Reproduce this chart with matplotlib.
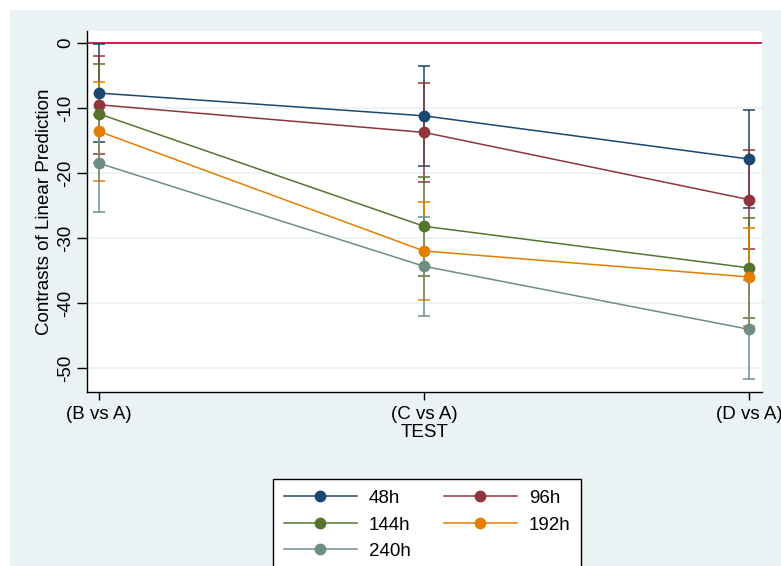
import numpy as np
import matplotlib
matplotlib.use('Agg')
import matplotlib.pyplot as plt
from matplotlib.patches import Rectangle

plt.rcParams['font.family'] = ['Liberation Sans', 'DejaVu Sans']

# contrasts (vs A) with 95% CI
tests = ['(B vs A)', '(C vs A)', '(D vs A)']
groups = ['48h', '96h', '144h', '192h', '240h']
est = {
    '48h':  [-7.7, -11.2, -17.85],
    '96h':  [-9.5, -13.75, -24.1],
    '144h': [-10.9, -28.2, -34.6],
    '192h': [-13.6, -32.0, -36.0],
    '240h': [-18.5, -34.35, -44.05],
}
lo = {
    '48h':  [-15.3, -18.9, -25.4],
    '96h':  [-17.1, -21.4, -31.7],
    '144h': [-18.5, -35.8, -42.3],
    '192h': [-21.2, -39.6, -43.6],
    '240h': [-26.0, -42.0, -51.7],
}
hi = {
    '48h':  [-0.1, -3.5, -10.3],
    '96h':  [-1.95, -6.1, -16.5],
    '144h': [-3.3, -20.6, -26.9],
    '192h': [-6.0, -24.4, -28.4],
    '240h': [-11.0, -26.7, -36.4],
}
colors = ['#1A476F', '#90353B', '#55752F', '#E37E00', '#6E8E84']
bg = '#EAF2F3'
fs = 13.5

fig = plt.figure(figsize=(7.81, 5.66), dpi=100)
fig.patches.append(Rectangle((10/781., 0), 1, 1 - 10/566., transform=fig.transFigure,
                             facecolor=bg, edgecolor='none', zorder=-10))
ax = fig.add_axes([87/781., 1 - 392/566., (762 - 87)/781., (392 - 31)/566.])
ax.set_facecolor('white')

x = np.arange(1, len(tests) + 1)

# CIs first, then lines on top
for g, c in zip(groups, colors):
    e = np.array(est[g])
    yerr = [e - np.array(lo[g]), np.array(hi[g]) - e]
    ax.errorbar(x, e, yerr=yerr, fmt='none', ecolor=c, elinewidth=1.1,
                capsize=4.5, capthick=1.1, zorder=2)

ax.axhline(0, color='#C8103A', lw=1.3, zorder=1.5)

handles = []
for g, c in zip(groups, colors):
    h, = ax.plot(x, est[g], color=c, lw=1.1, marker='o', ms=8.5,
                 markeredgewidth=0, label=g, zorder=3)
    handles.append(h)

ax.set_xlim(0.963, 3.04)
ax.set_ylim(-53.7, 1.85)
ax.set_xticks(x)
ax.set_xticklabels(tests, fontsize=fs)
ax.set_yticks([0, -10, -20, -30, -40, -50])
ax.set_yticklabels(['0', '-10', '-20', '-30', '-40', '-50'], fontsize=fs,
                   rotation=90, va='center')
ax.tick_params(axis='y', length=7, width=1, pad=2)
ax.tick_params(axis='x', length=6, width=1, pad=4)
ax.grid(axis='y', color=bg, lw=1.2, zorder=0)
ax.set_axisbelow(True)
for s in ['top', 'right']:
    ax.spines[s].set_visible(False)
ax.spines['left'].set_linewidth(1)
ax.spines['bottom'].set_linewidth(1)

ax.set_ylabel('Contrasts of Linear Prediction', fontsize=fs, labelpad=3)
ax.set_xlabel('TEST', fontsize=fs, labelpad=1)

# row-wise order in a 2 column legend
order = [0, 2, 4, 1, 3]
leg = fig.legend([handles[i] for i in order], [groups[i] for i in order],
                 ncol=2, loc='upper left', bbox_to_anchor=(273/781., 1 - 479/566.),
                 borderaxespad=0, frameon=True, fancybox=False, fontsize=fs,
                 handlelength=3.9, handletextpad=0.64, columnspacing=1.75,
                 labelspacing=0.5, borderpad=0.58, framealpha=1)
leg.get_frame().set_edgecolor('black')
leg.get_frame().set_linewidth(1)
leg.get_frame().set_facecolor('white')

fig.savefig('out.png', dpi=100)
